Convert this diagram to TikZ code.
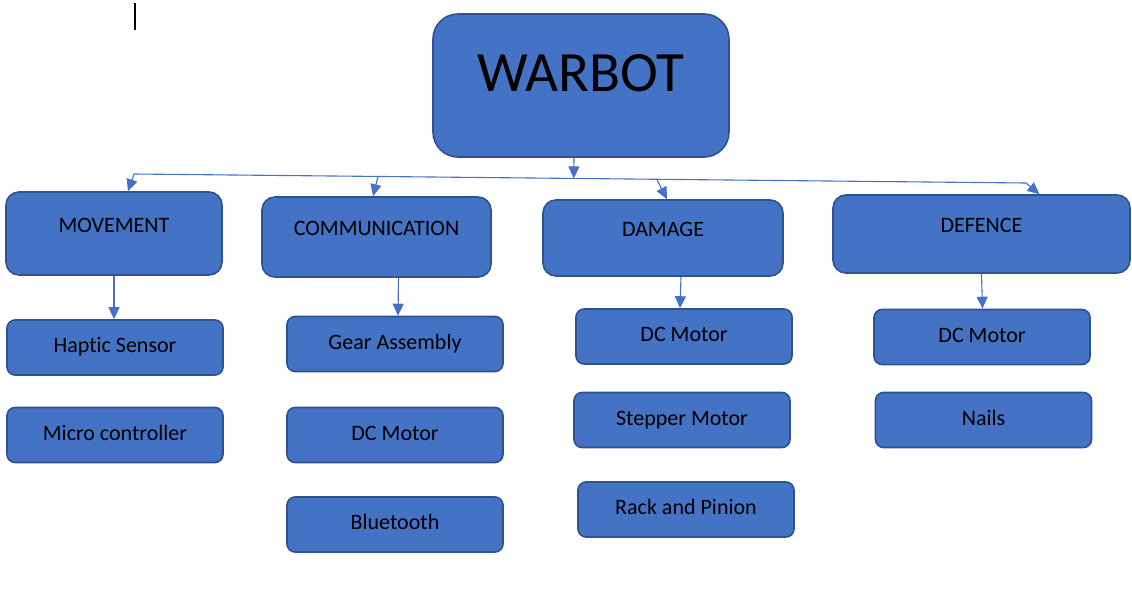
\documentclass[tikz,border=0pt]{standalone}
\usepackage{fontspec}
\setmainfont{Carlito}[RawFeature={-liga;-clig;-dlig;-rlig;-calt}]
\usetikzlibrary{arrows.meta,positioning,calc}
\definecolor{boxblue}{HTML}{4472C4}
\definecolor{edgeblue}{HTML}{2F528F}

\begin{document}
\begin{tikzpicture}[x=1pt, y=-1pt,
    base/.style={draw=edgeblue, fill=boxblue, line width=1.6pt, text=black, inner sep=0pt,
        font=\fontsize{22}{26}\selectfont},
    topbox/.style={base, rounded corners=25pt, minimum width=296pt, minimum height=143pt,
        font=\fontsize{57}{64}\selectfont, text height=37pt, text depth=25pt},
    catbox/.style={base, rounded corners=13pt, text height=15pt, text depth=18pt},
    itembox/.style={base, rounded corners=8pt, minimum width=216pt, minimum height=55pt,
        text height=15pt, text depth=5pt},
    link/.style={draw=boxblue, line width=1.1pt},
    arr/.style={link, -{Triangle[length=12pt, width=11pt]}}]
\useasboundingbox (0,0) rectangle (1132,597);

\draw[line width=2pt] (135,3) -- (135,30);

\node[topbox] (warbot) at (581,85.5) {WARBOT};

\node[catbox, minimum width=216pt, minimum height=83pt] (move) at (114,233.5) {MOVEMENT};
\node[catbox, minimum width=229pt, minimum height=80pt] (comm) at (376.5,237) {COMMUNICATION};
\node[catbox, minimum width=240pt, minimum height=76pt] (dmg) at (663,238) {DAMAGE};
\node[catbox, minimum width=297pt, minimum height=78pt] (def) at (981.5,234) {DEFENCE};

\node[itembox] (haptic) at (115,347.5) {Haptic Sensor};
\node[itembox] (micro) at (115,435) {Micro controller};

\node[itembox] (gear) at (395,344) {Gear Assembly};
\node[itembox] (dccomm) at (395,435) {DC Motor};
\node[itembox] (blue) at (395,524.5) {Bluetooth};

\node[itembox] (dcdmg) at (684,336.5) {DC Motor};
\node[itembox] (stepper) at (682,420) {Stepper Motor};
\node[itembox] (rack) at (686,509.5) {Rack and Pinion};

\node[itembox] (dcdef) at (982,337) {DC Motor};
\node[itembox] (nails) at (983.5,420) {Nails};

\coordinate (busL) at (134,174);
\coordinate (busR) at (1026,183);
\draw[link] (busL) -- (busR);
\draw[arr] ([xshift=-7pt]warbot.south) -- ($(busL)!0.493!(busR)$);

\draw[arr] (busL) -- ([xshift=14pt]move.north);
\draw[arr] ($(busL)!0.2735!(busR)$) -- ([xshift=-3.5pt]comm.north);
\draw[arr] ($(busL)!0.586!(busR)$) -- ([xshift=4pt]dmg.north);
\draw[arr] (busR) -- ([xshift=58pt]def.north);

\draw[arr] (move.south) -- (move.south |- haptic.north);
\draw[arr] ([xshift=22pt]comm.south) -- ([xshift=3pt]gear.north);
\draw[arr] ([xshift=18pt]dmg.south) -- ([xshift=-4pt]dcdmg.north);
\draw[arr] (def.south) -- ([xshift=0.5pt]dcdef.north);
\end{tikzpicture}
\end{document}
